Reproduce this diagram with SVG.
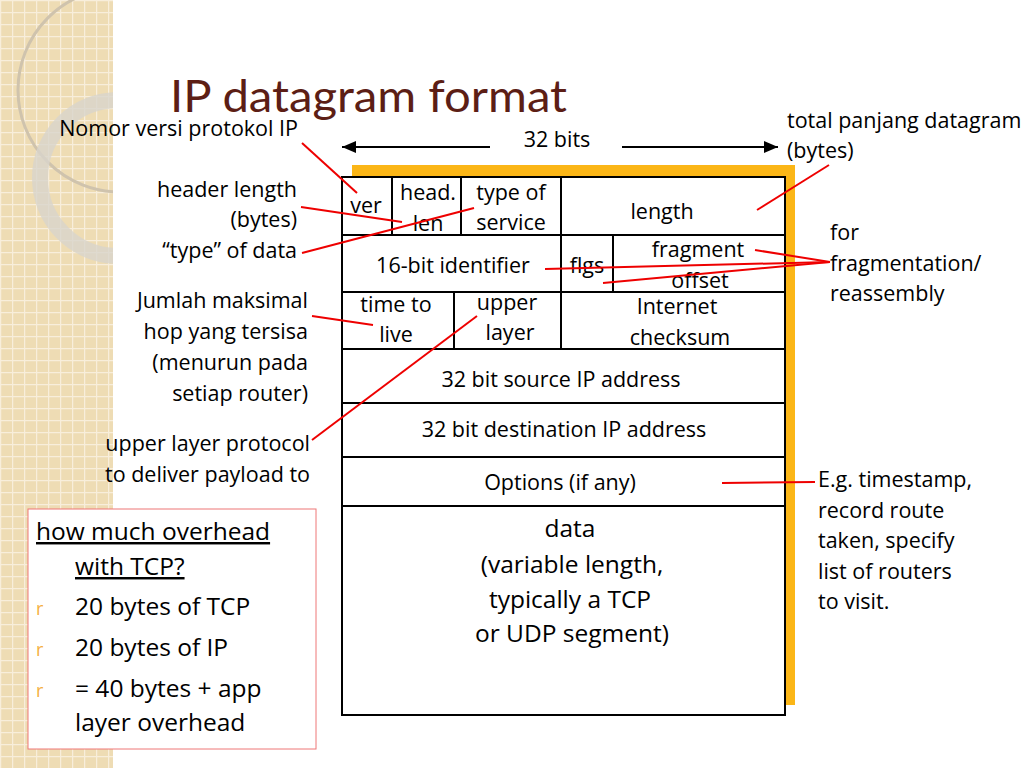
<svg xmlns="http://www.w3.org/2000/svg" width="1024" height="768" viewBox="0 0 1024 768">
<defs>
<pattern id="grid" width="12" height="12" patternUnits="userSpaceOnUse">
<rect width="12" height="12" fill="#eedcb4"/>
<path d="M0 0.5H12M0.5 0V12" stroke="#f8eedb" stroke-width="1.5"/>
</pattern>
<clipPath id="strip"><rect width="113" height="768"/></clipPath>
<marker id="ah" markerWidth="8" markerHeight="8" refX="7" refY="4" orient="auto"><path d="M0 1L7 4L0 7z" fill="#000"/></marker>
</defs>
<style>
text{font-family:"Open Sans","Liberation Sans",sans-serif;fill:#000}
.t{font-size:21.5px}
.c{text-anchor:middle}
.r{text-anchor:end}
.b{font-size:24.5px}
.cell{fill:#fff;stroke:#000;stroke-width:2}
.red{stroke:#e00;stroke-width:2;fill:none}
</style>
<rect width="1024" height="768" fill="#fff"/>
<rect width="113" height="768" fill="url(#grid)"/>
<g fill="none" clip-path="url(#strip)">
<circle cx="120" cy="90" r="102" stroke="#cfc3ad" stroke-width="3"/>
<circle cx="118" cy="178" r="78" stroke="#d8d4cc" stroke-width="16" opacity="0.8"/>
</g>
<text x="170" y="112" font-size="44" textLength="397" lengthAdjust="spacingAndGlyphs" style="fill:#5c1e15;font-family:Lato,'Open Sans',sans-serif">IP datagram format</text>
<g id="frame">
<rect x="352" y="165" width="443" height="540" fill="#fbb617"/>
<rect x="342" y="177" width="443" height="538" class="cell"/>
</g>
<g id="fields" stroke="#000" stroke-width="2">
<path d="M342 235H785M342 292H785M342 349H785M342 403H785M342 457H785M342 506H785"/>
<path d="M392 177V235M461 177V235M561 177V292M613 235V292M454 292V349M561 292V349"/>
</g>
<g class="t">
<text x="366" y="213" class="c">ver</text>
<text x="428" y="200" class="c">head.</text>
<text x="428" y="231" class="c">len</text>
<text x="511" y="200" class="c">type of</text>
<text x="511" y="230" class="c">service</text>
<text x="662" y="219" class="c">length</text>
<text x="453" y="273" class="c">16-bit identifier</text>
<text x="587" y="273" class="c">flgs</text>
<text x="698" y="257" class="c">fragment</text>
<text x="700" y="288" class="c">offset</text>
<text x="396" y="312" class="c">time to</text>
<text x="396" y="342" class="c">live</text>
<text x="507" y="310" class="c">upper</text>
<text x="510" y="340" class="c">layer</text>
<text x="677" y="314" class="c">Internet</text>
<text x="680" y="345" class="c">checksum</text>
<text x="561" y="387" class="c">32 bit source IP address</text>
<text x="564" y="437" class="c">32 bit destination IP address</text>
<text x="560" y="490" class="c">Options (if any)</text>
<text x="570" y="537" class="b c">data</text>
<text x="572" y="573" class="b c">(variable length,</text>
<text x="570" y="608" class="b c">typically a TCP</text>
<text x="572" y="642" class="b c">or UDP segment)</text>
<text x="557" y="147" class="c">32 bits</text>
</g>
<g id="arrows" stroke="#000" stroke-width="2">
<line x1="490" y1="147" x2="342" y2="147" marker-end="url(#ah)"/>
<line x1="622" y1="147" x2="778" y2="147" marker-end="url(#ah)"/>
</g>
<g id="labels" class="t">
<text x="298" y="136" class="r">Nomor versi protokol IP</text>
<text x="297" y="197" class="r">header length</text>
<text x="297" y="227" class="r">(bytes)</text>
<text x="297" y="258" class="r">“type” of data</text>
<text x="308" y="308" class="r">Jumlah maksimal</text>
<text x="308" y="339" class="r">hop yang tersisa</text>
<text x="308" y="370" class="r">(menurun pada</text>
<text x="308" y="401" class="r">setiap router)</text>
<text x="310" y="451" class="r">upper layer protocol</text>
<text x="310" y="482" class="r">to deliver payload to</text>
<text x="787" y="128">total panjang datagram</text>
<text x="787" y="158">(bytes)</text>
<text x="830" y="240">for</text>
<text x="830" y="271">fragmentation/</text>
<text x="830" y="301">reassembly</text>
<text x="818" y="487">E.g. timestamp,</text>
<text x="818" y="518">record route</text>
<text x="818" y="548">taken, specify</text>
<text x="818" y="579">list of routers</text>
<text x="818" y="609">to visit.</text>
</g>
<g id="connectors" class="red">
<line x1="302" y1="143" x2="357" y2="193"/>
<line x1="301" y1="207" x2="402" y2="222"/>
<line x1="302" y1="253" x2="474" y2="208"/>
<line x1="312" y1="316" x2="373" y2="325"/>
<line x1="312" y1="440" x2="477" y2="316"/>
<line x1="829" y1="165" x2="757" y2="210"/>
<line x1="545" y1="269" x2="830" y2="262"/>
<line x1="603" y1="283" x2="830" y2="262"/>
<line x1="755" y1="250" x2="830" y2="262"/>
<line x1="722" y1="483" x2="815" y2="482"/>
</g>
<g id="note">
<rect x="28" y="509" width="288" height="240" fill="#fff" stroke="#e77" stroke-width="1"/>
<text x="36" y="540" class="b" text-decoration="underline">how much overhead</text>
<text x="75" y="575" class="b" text-decoration="underline">with TCP?</text>
<text x="36" y="615" font-size="18" style="fill:#f5b041">r</text>
<text x="75" y="615" class="b">20 bytes of TCP</text>
<text x="36" y="656" font-size="18" style="fill:#f5b041">r</text>
<text x="75" y="656" class="b">20 bytes of IP</text>
<text x="36" y="697" font-size="18" style="fill:#f5b041">r</text>
<text x="75" y="697" class="b">= 40 bytes + app</text>
<text x="75" y="731" class="b">layer overhead</text>
</g>
</svg>
